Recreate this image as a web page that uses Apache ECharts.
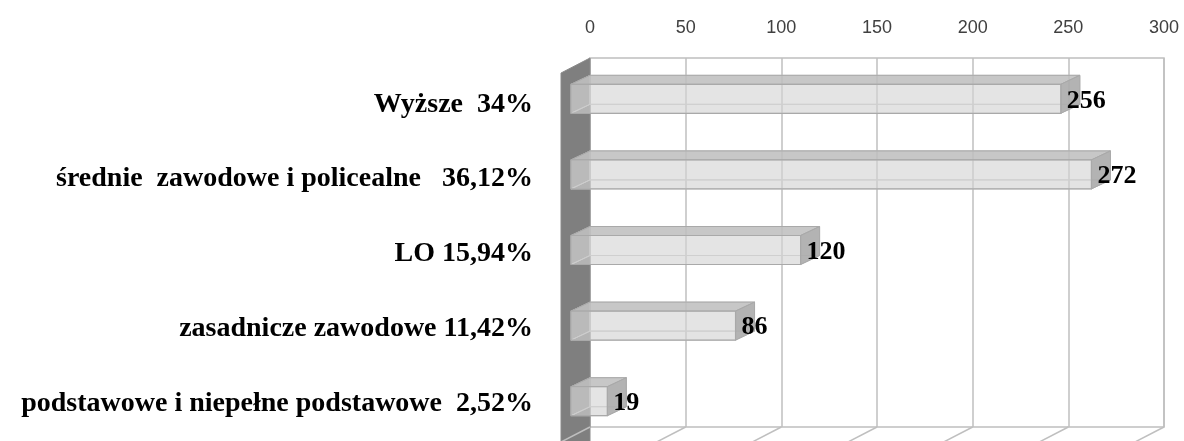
<!DOCTYPE html>
<html>
<head>
<meta charset="utf-8">
<script src="https://cdn.jsdelivr.net/npm/echarts@6/dist/echarts.min.js"></script>
<style>
  html, body { margin: 0; padding: 0; background: #ffffff; }
  #chart { width: 1184px; height: 441px; }
</style>
</head>
<body>
<div id="chart"></div>
<script>
// ---- data ----
var categories = [
  'Wyższe  34%',
  'średnie  zawodowe i policealne   36,12%',
  'LO 15,94%',
  'zasadnicze zawodowe 11,42%',
  'podstawowe i niepełne podstawowe  2,52%'
];
var values = [256, 272, 120, 86, 19];
var tickValues = [0, 50, 100, 150, 200, 250, 300];
var axisMin = 0;
var axisMax = 300;
var axisInterval = 50;

// ---- style constants ----
var DX = 19;     // bar depth (horizontal)
var DY = 9;      // bar depth (vertical)
var FACE = 29;   // front face height
var WDX = 29;    // wall depth horizontal
var WDY = 15;    // wall depth vertical
var serif = '"Liberation Serif", "Times New Roman", serif';

var chart = echarts.init(document.getElementById('chart'), null, { renderer: 'canvas' });

function wallItem(params, api) {
  var top = api.coord([0, 1]);
  var bot = api.coord([0, 0]);
  return {
    type: 'polygon',
    shape: { points: [
      [top[0], top[1]],
      [bot[0], bot[1] + 20],
      [bot[0] - WDX, bot[1] + 20 + WDY],
      [top[0] - WDX, top[1] + WDY]
    ] },
    style: { fill: '#7f7f7f', stroke: '#8a8a8a', lineWidth: 1 }
  };
}

function floorItem(params, api) {
  var p = api.coord([api.value(0), 0]);
  return {
    type: 'line',
    shape: { x1: p[0], y1: p[1], x2: p[0] - WDX, y2: p[1] + WDY },
    style: { stroke: '#bfbfbf', lineWidth: 1.5 }
  };
}

function barItem(params, api) {
  var idx = api.value(0);
  var val = api.value(1);
  var c0 = api.coord([0, idx]);
  var c1 = api.coord([val, idx]);
  var yc = c0[1];
  var fl = c0[0] - DX, fr = c1[0] - DX;
  var ft = yc - FACE / 2, fb = yc + FACE / 2;
  var edge = '#a9a9a9';
  return {
    type: 'group',
    children: [
      { type: 'rect', shape: { x: fl + DX, y: ft - DY, width: fr - fl, height: FACE },
        style: { fill: 'rgba(200,200,200,0.2)', stroke: '#c6c6c6', lineWidth: 1 } },
      { type: 'polygon', shape: { points: [[fl, fb], [fl + DX, fb - DY], [fr + DX, fb - DY], [fr, fb]] },
        style: { fill: 'rgba(190,190,190,0.2)', stroke: '#c6c6c6', lineWidth: 1 } },
      { type: 'polygon', shape: { points: [[fl, ft], [fl + DX, ft - DY], [fl + DX, fb - DY], [fl, fb]] },
        style: { fill: 'rgba(200,200,200,0.35)', stroke: '#c0c0c0', lineWidth: 1 } },
      { type: 'polygon', shape: { points: [[fl, ft], [fl + DX, ft - DY], [fr + DX, ft - DY], [fr, ft]] },
        style: { fill: 'rgba(190,190,190,0.85)', stroke: edge, lineWidth: 1 } },
      { type: 'polygon', shape: { points: [[fr, ft], [fr + DX, ft - DY], [fr + DX, fb - DY], [fr, fb]] },
        style: { fill: 'rgba(172,172,172,0.9)', stroke: edge, lineWidth: 1 } },
      { type: 'rect', shape: { x: fl, y: ft, width: fr - fl, height: FACE },
        style: { fill: 'rgba(215,215,215,0.55)', stroke: edge, lineWidth: 1.2 } },
      { type: 'text', x: fr + 6, y: yc + 2,
        style: { text: String(val), fill: '#000000', font: 'bold 26px ' + serif,
                 textAlign: 'left', textVerticalAlign: 'middle' } }
    ]
  };
}

var option = {
  animation: false,
  backgroundColor: '#ffffff',
  grid: [
    { left: 590, right: 20, top: 58, bottom: 14, show: true, borderColor: '#bfbfbf', borderWidth: 1.5, backgroundColor: 'transparent' },
    { left: 590, right: 20, top: 61, height: 378, show: false },
    { left: 590, right: 20, top: 67, height: 383, show: false }
  ],
  xAxis: [
    { gridIndex: 0, type: 'value', position: 'top', min: axisMin, max: axisMax, interval: axisInterval,
      axisLine: { show: false }, axisTick: { show: false },
      axisLabel: { margin: 21, color: '#404040', fontSize: 18, fontFamily: '"Liberation Sans", Arial, sans-serif' },
      splitLine: { show: true, lineStyle: { color: '#bfbfbf', width: 1.5 } } },
    { gridIndex: 1, type: 'value', min: axisMin, max: axisMax, show: false },
    { gridIndex: 2, type: 'value', min: axisMin, max: axisMax, show: false }
  ],
  yAxis: [
    { gridIndex: 0, type: 'value', min: 0, max: 1, show: false },
    { gridIndex: 1, type: 'category', inverse: true, data: categories, show: false },
    { gridIndex: 2, type: 'category', inverse: true, data: categories,
      axisLine: { show: false }, axisTick: { show: false }, splitLine: { show: false },
      axisLabel: { margin: 57, color: '#000000', fontSize: 28, fontWeight: 'bold', fontFamily: serif } }
  ],
  series: [
    { type: 'custom', xAxisIndex: 0, yAxisIndex: 0, data: [[0]], renderItem: wallItem, silent: true, z: 1, clip: false },
    { type: 'custom', xAxisIndex: 0, yAxisIndex: 0, data: tickValues.map(function (v) { return [v]; }), renderItem: floorItem, silent: true, z: 1 },
    { type: 'custom', xAxisIndex: 1, yAxisIndex: 1,
      data: values.map(function (v, i) { return [i, v]; }),
      encode: { x: 1, y: 0 }, renderItem: barItem, z: 3 }
  ]
};
chart.setOption(option);
</script>
</body>
</html>
